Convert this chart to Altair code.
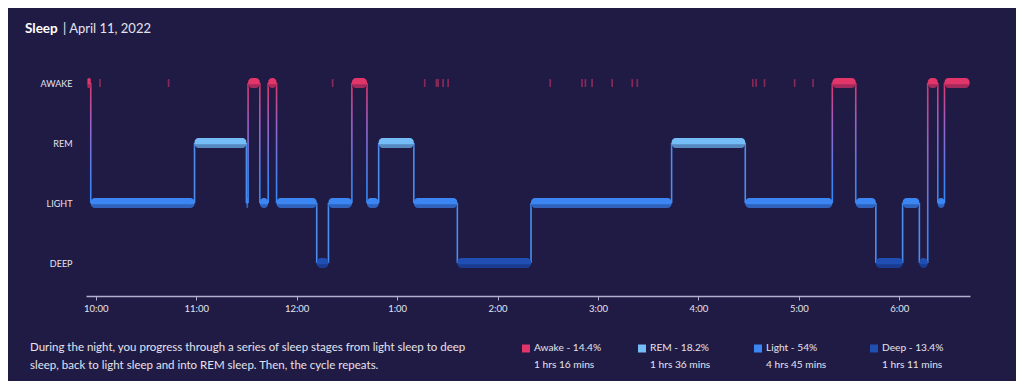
import altair as alt
import pandas as pd

# ---------------- data ----------------
stage_codes = ["AWAKE", "REM", "LIGHT", "DEEP"]
stage_levels = [3, 2, 1, 0]
stage_colors = ["#e2356a", "#74bdf7", "#3b86f3", "#1f4fb3"]

seg_start = ["21:55", "21:57", "22:59", "23:30", "23:31", "23:38", "23:43", "23:48",
             "00:12", "00:19", "00:33", "00:42", "00:49", "01:10", "01:36", "02:20",
             "03:44", "04:28", "05:20", "05:34", "05:46", "06:02", "06:12", "06:17",
             "06:23", "06:27"]
seg_stage = ["AWAKE", "LIGHT", "REM", "LIGHT", "AWAKE", "LIGHT", "AWAKE", "LIGHT",
             "DEEP", "LIGHT", "AWAKE", "LIGHT", "REM", "LIGHT", "DEEP", "LIGHT",
             "REM", "LIGHT", "AWAKE", "LIGHT", "DEEP", "LIGHT", "DEEP", "AWAKE",
             "LIGHT", "AWAKE"]
sleep_end = "06:42"

blip_times = ["22:02", "22:43", "00:21", "01:16", "01:23", "01:24", "01:27", "01:30",
              "02:31", "02:50", "02:52", "02:56", "03:08", "03:20", "03:23", "04:32",
              "04:34", "04:39", "04:57", "05:08"]

legend_names = ["Awake", "REM", "Light", "Deep"]
legend_pct = ["14.4%", "18.2%", "54%", "13.4%"]
legend_dur = ["1 hrs 16 mins", "1 hrs 36 mins", "4 hrs 45 mins", "1 hrs 11 mins"]

hour_ticks = ["22:00", "23:00", "00:00", "01:00", "02:00", "03:00", "04:00", "05:00", "06:00"]

title_main = "Sleep"
title_date = "| April 11, 2022"
desc_lines = ["During the night, you progress through a series of sleep stages from light sleep to deep",
              "sleep, back to light sleep and into REM sleep. Then, the cycle repeats."]


# ---------------- helpers ----------------
def ts(hm, sec=0):
    h, m = map(int, hm.split(":"))
    day = 10 if h >= 12 else 11
    return pd.Timestamp(2022, 4, day, h, m, sec)


def dt(t):
    return alt.DateTime(year=t.year, month=t.month, date=t.day,
                        hours=t.hour, minutes=t.minute, seconds=t.second)


level_of = dict(zip(stage_codes, stage_levels))
HALF = 0.085

ends = seg_start[1:] + [sleep_end]
seg = pd.DataFrame({
    "start": [ts(s) for s in seg_start],
    "end": [ts(e) for e in ends],
    "stage": seg_stage,
})
seg["level"] = seg["stage"].map(level_of)
seg["top"] = seg["level"] + HALF
seg["bot"] = seg["level"] - HALF
seg["mid"] = seg["level"] - 0.02

con_rows = []
for i in range(1, len(seg_stage)):
    a, b = level_of[seg_stage[i - 1]], level_of[seg_stage[i]]
    con_rows.append({"t": ts(seg_start[i]), "hi": max(a, b), "lo": min(a, b),
                     "awake": int(max(a, b) == 3)})
con = pd.DataFrame(con_rows)

blips = pd.DataFrame({
    "start": [ts(b) for b in blip_times],
    "end": [ts(b) + pd.Timedelta(minutes=1) for b in blip_times],
})
blips["top"] = 3 + 0.065
blips["bot"] = 3 - 0.065

leg = pd.DataFrame({
    "stage": stage_codes,
    "name": legend_names,
    "line1": [f"{n} - {p}" for n, p in zip(legend_names, legend_pct)],
    "line2": legend_dur,
})

# ---------------- scales ----------------
x_min = ts("21:54", 10)
x_max = ts("06:42", 15)
x_scale = alt.Scale(domain=[dt(x_min), dt(x_max)], padding=0)
y_scale = alt.Scale(domain=[-0.55, 3.517], nice=False, zero=False, padding=0)
color_scale = alt.Scale(domain=stage_codes, range=stage_colors)

FONT = "Lato"
TXT = "#e4e3ee"

x_axis = alt.Axis(title=None, format="%-I:%M", values=[dt(ts(h)) for h in hour_ticks],
                  grid=False, domainColor="#b3afcf", domainWidth=1.5, tickColor="#b3afcf",
                  tickSize=4, labelColor=TXT, labelFont=FONT, labelFontSize=9.5,
                  labelPadding=3)
y_axis = alt.Axis(title=None, values=[0, 1, 2, 3],
                  labelExpr="['DEEP','LIGHT','REM','AWAKE'][datum.value]",
                  domain=False, ticks=False, grid=False, labelPadding=14,
                  labelColor=TXT, labelFont=FONT, labelFontSize=9)

grad = alt.LinearGradient(
    gradient="linear", x1=0, x2=0, y1=0, y2=1,
    stops=[alt.GradientStop(color="#e2356a", offset=0),
           alt.GradientStop(color="#9a63c8", offset=0.35),
           alt.GradientStop(color="#3b86f3", offset=0.85)])

con_awake = alt.Chart(con).transform_filter("datum.awake == 1").mark_bar(
    size=1.6, fill=grad).encode(
    x=alt.X("t:T", scale=x_scale, axis=x_axis),
    y=alt.Y("hi:Q", scale=y_scale, axis=y_axis),
    y2="lo:Q")

con_other = alt.Chart(con).transform_filter("datum.awake == 0").mark_bar(
    size=1.6, color="#4a8ef0").encode(
    x=alt.X("t:T", scale=x_scale, axis=x_axis),
    y=alt.Y("hi:Q", scale=y_scale, axis=y_axis),
    y2="lo:Q")

bars = alt.Chart(seg).mark_rect(cornerRadius=4).encode(
    x=alt.X("start:T", scale=x_scale, axis=x_axis),
    x2="end:T",
    y=alt.Y("top:Q", scale=y_scale, axis=y_axis),
    y2="bot:Q",
    color=alt.Color("stage:N", scale=color_scale, legend=None))

strips = alt.Chart(seg).mark_rect(color="#100f40", opacity=0.3,
                                  cornerRadiusBottomLeft=4, cornerRadiusBottomRight=4).encode(
    x=alt.X("start:T", scale=x_scale, axis=x_axis),
    x2="end:T",
    y=alt.Y("mid:Q", scale=y_scale, axis=y_axis),
    y2="bot:Q")

blip = alt.Chart(blips).mark_rect(color="#e2356a", opacity=0.55).encode(
    x=alt.X("start:T", scale=x_scale, axis=x_axis),
    x2="end:T",
    y=alt.Y("top:Q", scale=y_scale, axis=y_axis),
    y2="bot:Q")

main = alt.layer(con_awake, con_other, bars, strips, blip)

# ---------------- legend ----------------
leg_x = alt.X("name:N", scale=alt.Scale(type="point", domain=legend_names,
                                         range=[440, 788], padding=0), axis=None)
leg_sq = alt.Chart(leg).mark_square(size=64, opacity=1, shape="square").encode(
    x=leg_x, y=alt.value(296.5),
    color=alt.Color("stage:N", scale=color_scale, legend=None))
leg_t1 = alt.Chart(leg).mark_text(align="left", baseline="middle", dx=8, font=FONT,
                                  fontSize=10.2, color=TXT).encode(
    x=leg_x, y=alt.value(295.5), text="line1:N")
leg_t2 = alt.Chart(leg).mark_text(align="left", baseline="middle", dx=8, font=FONT,
                                  fontSize=10.2, color=TXT).encode(
    x=leg_x, y=alt.value(312.5), text="line2:N")
legend = alt.layer(leg_sq, leg_t1, leg_t2)

# ---------------- annotations ----------------
one = pd.DataFrame({"k": [0]})
t_main = alt.Chart(one).mark_text(align="left", baseline="middle", font=FONT, fontSize=13.5,
                                  fontWeight="bold", color="#ffffff").encode(
    x=alt.value(-61), y=alt.value(-23), text=alt.value(title_main))
t_date = alt.Chart(one).mark_text(align="left", baseline="middle", font=FONT, fontSize=13,
                                  color=TXT).encode(
    x=alt.value(-23), y=alt.value(-23), text=alt.value(title_date))
d1 = alt.Chart(one).mark_text(align="left", baseline="middle", font=FONT, fontSize=11.5,
                              color=TXT).encode(
    x=alt.value(-56), y=alt.value(296), text=alt.value(desc_lines[0]))
d2 = alt.Chart(one).mark_text(align="left", baseline="middle", font=FONT, fontSize=11.5,
                              color=TXT).encode(
    x=alt.value(-56), y=alt.value(314), text=alt.value(desc_lines[1]))

chart = alt.layer(main, legend, t_main, t_date, d1, d2).resolve_scale(
    x="independent"
).properties(
    width=884, height=244,
    autosize=alt.AutoSizeParams(type="none"),
    padding={"left": 78, "top": 44, "right": 46, "bottom": 85},
).configure(background="#201b44").configure_view(stroke=None)

chart.save("out.html", embed_options={"renderer": "svg", "actions": False})
